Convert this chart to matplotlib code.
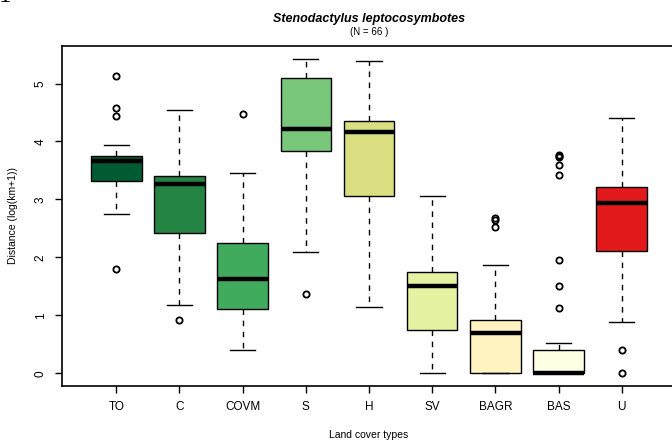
#!/usr/bin/env python3
import matplotlib
matplotlib.use("Agg")
import matplotlib.pyplot as plt

# land cover categories and box summaries (log(km+1) distance)
categories = ["TO", "C", "COVM", "S", "H", "SV", "BAGR", "BAS", "U"]
medians = [3.66, 3.26, 1.635, 4.22, 4.16, 1.51, 0.69, 0.0, 2.94]
q1 = [3.325, 2.43, 1.107, 3.836, 3.06, 0.755, 0.0, 0.0, 2.107]
q3 = [3.755, 3.40, 2.255, 5.09, 4.36, 1.745, 0.922, 0.41, 3.215]
whisker_low = [2.755, 1.175, 0.41, 2.10, 1.14, 0.0, 0.0, 0.0, 0.888]
whisker_high = [3.94, 4.54, 3.46, 5.417, 5.39, 3.066, 1.876, 0.53, 4.41]
outliers = [
    [5.13, 4.57, 4.44, 1.80],
    [0.917],
    [4.48],
    [1.366],
    [],
    [],
    [2.68, 2.64, 2.52],
    [3.77, 3.75, 3.73, 3.595, 3.42, 1.95, 1.51, 1.124],
    [0.41, 0.0],
]
box_colors = ["#005a32", "#238443", "#41ab5d", "#78c679", "#d9de80",
              "#e5f2a2", "#fff3c2", "#ffffe3", "#e31a1c"]

title = "Stenodactylus leptocosymbotes"
subtitle = "(N = 66 )"

plt.rcParams["font.family"] = ["Liberation Sans", "DejaVu Sans"]

W, H = 672, 444
fig = plt.figure(figsize=(W / 100, H / 100), dpi=100)
# plot region in pixels: left 62, right 676 (runs past the edge), top 46, bottom 386
ax = fig.add_axes([62 / W, 1 - 386 / H, (676 - 62) / W, (386 - 46) / H])

stats = []
for i, name in enumerate(categories):
    stats.append({
        "label": name,
        "med": medians[i],
        "q1": q1[i],
        "q3": q3[i],
        "whislo": whisker_low[i],
        "whishi": whisker_high[i],
        "fliers": outliers[i],
    })

positions = list(range(1, len(categories) + 1))
bp = ax.bxp(
    stats,
    positions=positions,
    widths=0.8,
    capwidths=0.4,
    patch_artist=True,
    boxprops=dict(edgecolor="black", linewidth=1.0),
    whiskerprops=dict(color="black", linewidth=1.0, linestyle=(0, (4, 4))),
    capprops=dict(color="black", linewidth=1.0),
    medianprops=dict(color="black", linewidth=3.2, solid_capstyle="butt"),
    flierprops=dict(marker="o", markerfacecolor="none", markeredgecolor="black",
                    markersize=4.5, markeredgewidth=1.3, linestyle="none"),
)
for patch, col in zip(bp["boxes"], box_colors):
    patch.set_facecolor(col)

ax.set_xlim(0.14, 9.86)
ax.set_ylim(-0.217, 5.647)

ax.set_xticks(positions)
ax.set_xticklabels(categories)
ax.set_yticks([0, 1, 2, 3, 4, 5])
ax.set_yticklabels(["0", "1", "2", "3", "4", "5"], rotation=90, va="center")
ax.tick_params(axis="both", length=5, width=1.0, pad=6, labelsize=8.5)

for side in ["left", "bottom", "top", "right"]:
    ax.spines[side].set_linewidth(1.2)

fig.text(369 / W, 1 - 19 / H, title, ha="center", va="center",
         fontsize=9, fontweight="bold", fontstyle="italic")
fig.text(369 / W, 1 - 32 / H, subtitle, ha="center", va="center", fontsize=7)
fig.text(369 / W, 1 - 435 / H, "Land cover types", ha="center", va="center", fontsize=7.5)
fig.text(13 / W, 1 - 216 / H, "Distance (log(km+1))", ha="center", va="center",
         rotation=90, fontsize=7.5)

# cut-off glyph at the top left corner of the source image (only its foot shows)
fig.text(5 / W, 1 - 2 / H, "1", ha="center", va="baseline", fontsize=18,
         family="Liberation Serif")

fig.savefig("out.png", dpi=100)
